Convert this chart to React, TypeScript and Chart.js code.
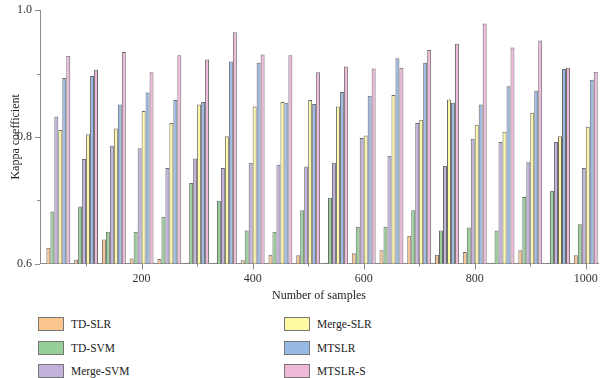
import React, { useEffect, useRef } from "react";
import { Chart, registerables } from "chart.js";

Chart.register(...registerables);

// ---- data ----
const sampleSizes = [50, 100, 150, 200, 250, 300, 350, 400, 450, 500, 550, 600, 650, 700, 750, 800, 850, 900, 950, 1000];
const seriesNames = ["TD-SLR", "TD-SVM", "Merge-SVM", "Merge-SLR", "MTSLR", "MTSLR-S"];
const tdSlr = [0.625, 0.606, 0.638, 0.608, 0.607, 0.601, 0.601, 0.605, 0.614, 0.613, 0.601, 0.616, 0.621, 0.644, 0.614, 0.618, 0.601, 0.621, 0.601, 0.613];
const tdSvm = [0.682, 0.690, 0.650, 0.650, 0.674, 0.727, 0.699, 0.652, 0.650, 0.684, 0.704, 0.658, 0.658, 0.684, 0.652, 0.657, 0.652, 0.705, 0.715, 0.662];
const mergeSvm = [0.832, 0.765, 0.786, 0.782, 0.751, 0.766, 0.751, 0.759, 0.756, 0.753, 0.759, 0.798, 0.770, 0.822, 0.754, 0.797, 0.792, 0.760, 0.792, 0.751];
const mergeSlr = [0.811, 0.804, 0.813, 0.841, 0.822, 0.851, 0.801, 0.848, 0.855, 0.858, 0.848, 0.802, 0.866, 0.827, 0.859, 0.819, 0.808, 0.838, 0.801, 0.816];
const mtslr = [0.893, 0.896, 0.851, 0.870, 0.858, 0.855, 0.919, 0.917, 0.854, 0.852, 0.871, 0.865, 0.924, 0.917, 0.854, 0.851, 0.880, 0.873, 0.907, 0.890];
const mtslrS = [0.928, 0.906, 0.934, 0.902, 0.929, 0.922, 0.965, 0.930, 0.929, 0.902, 0.911, 0.908, 0.909, 0.937, 0.947, 0.979, 0.941, 0.952, 0.909, 0.903];
const seriesValues = [tdSlr, tdSvm, mergeSvm, mergeSlr, mtslr, mtslrS];
const seriesColors = ["#FBC590", "#97D097", "#C1B1DC", "#FFF9A3", "#98B8E6", "#F0B9DA"];
const xTicks = [100, 200, 300, 400, 500, 600, 700, 800, 900, 1000];
const xTickLabels = [200, 400, 600, 800, 1000];
const yTicks = [0.6, 0.7, 0.8, 0.9, 1.0];
const yTickLabels = [0.6, 0.8, 1.0];

const FONT = "'Liberation Serif', 'DejaVu Serif', serif";
const AXIS_COLOR = "#8c8c8c";

const isYLabel = (v: number) => yTickLabels.some((t) => Math.abs(t - v) < 1e-6);

const tickMarks = {
  id: "tickMarks",
  afterDraw(chart: any) {
    const { ctx } = chart;
    const x = chart.scales.x;
    const y = chart.scales.y;
    ctx.save();
    ctx.strokeStyle = AXIS_COLOR;
    ctx.lineWidth = 1;
    ctx.beginPath();
    x.ticks.forEach((t: any) => {
      const px = Math.round(x.getPixelForValue(t.value)) + 0.5;
      const len = xTickLabels.includes(t.value) ? 6 : 3;
      ctx.moveTo(px, x.top);
      ctx.lineTo(px, x.top + len);
    });
    y.ticks.forEach((t: any) => {
      const py = Math.round(y.getPixelForValue(t.value)) + 0.5;
      const len = isYLabel(t.value) ? 5 : 3;
      ctx.moveTo(y.right - len, py);
      ctx.lineTo(y.right, py);
    });
    ctx.stroke();
    ctx.restore();
  },
};

export default function App() {
  const ref = useRef<HTMLCanvasElement | null>(null);

  useEffect(() => {
    document.body.style.margin = "0";
    const canvas = ref.current;
    if (!canvas) return;
    const chart = new Chart(canvas, {
      type: "bar",
      data: {
        datasets: seriesNames.map((name, i) => ({
          label: name,
          data: sampleSizes.map((s, j) => ({ x: s, y: seriesValues[i][j] })),
          backgroundColor: seriesColors[i],
          borderColor: "#6a6a6a",
          borderWidth: 1,
          barPercentage: 1.0,
          categoryPercentage: 0.86,
        })),
      },
      options: {
        animation: false,
        responsive: false,
        maintainAspectRatio: false,
        layout: { padding: { top: 6, right: 2, left: 0, bottom: 0 } },
        plugins: { legend: { display: false }, tooltip: { enabled: false } },
        scales: {
          x: {
            type: "linear",
            offset: false,
            min: 17,
            max: 1022,
            grid: { display: false, drawTicks: true, tickLength: 6, offset: false },
            border: { display: true, color: AXIS_COLOR, width: 1 },
            afterBuildTicks: (s: any) => {
              s.ticks = xTicks.map((v) => ({ value: v }));
            },
            ticks: {
              autoSkip: false,
              maxRotation: 0,
              padding: 2,
              color: "#333",
              font: { family: FONT, size: 12 },
              callback: (v: any) => (xTickLabels.includes(Number(v)) ? String(v) : ""),
            },
            title: {
              display: true,
              text: "Number of samples",
              color: "#222",
              font: { family: FONT, size: 12 },
              padding: { top: 0, bottom: 7 },
            },
            afterFit: (s: any) => {
              s.height = 46.5;
            },
          },
          y: {
            type: "linear",
            min: 0.6,
            max: 1.0,
            grid: { display: false, drawTicks: true, tickLength: 5 },
            border: { display: true, color: AXIS_COLOR, width: 1 },
            afterBuildTicks: (s: any) => {
              s.ticks = yTicks.map((v) => ({ value: v }));
            },
            ticks: {
              autoSkip: false,
              padding: 3,
              color: "#333",
              font: { family: FONT, size: 12 },
              callback: (v: any) => (isYLabel(Number(v)) ? Number(v).toFixed(1) : ""),
            },
            title: {
              display: true,
              text: "Kappa coefficient",
              color: "#222",
              font: { family: FONT, size: 12 },
              padding: { top: 9, bottom: 0 },
            },
            afterFit: (s: any) => {
              s.width = 40;
            },
          },
        },
      },
      plugins: [tickMarks],
    } as any);
    return () => chart.destroy();
  }, []);

  const rowTops = [317, 340.5, 363.7];
  const colLefts = [38, 284];

  return (
    <div style={{ position: "relative", width: 600, height: 378, background: "#fff", overflow: "hidden" }}>
      <canvas ref={ref} width={600} height={310} style={{ display: "block", width: 600, height: 310 }} />
      {seriesNames.map((name, i) => {
        const col = Math.floor(i / 3);
        const row = i % 3;
        return (
          <div
            key={name}
            style={{
              position: "absolute",
              left: colLefts[col],
              top: rowTops[row],
              height: 14,
              display: "flex",
              alignItems: "center",
              fontFamily: FONT,
              fontSize: 11.5,
              color: "#222",
              whiteSpace: "nowrap",
            }}
          >
            <span
              style={{
                display: "inline-block",
                width: 24,
                height: 12,
                background: seriesColors[i],
                border: "1px solid #777",
                marginRight: 7,
              }}
            />
            <span>{name}</span>
          </div>
        );
      })}
    </div>
  );
}
